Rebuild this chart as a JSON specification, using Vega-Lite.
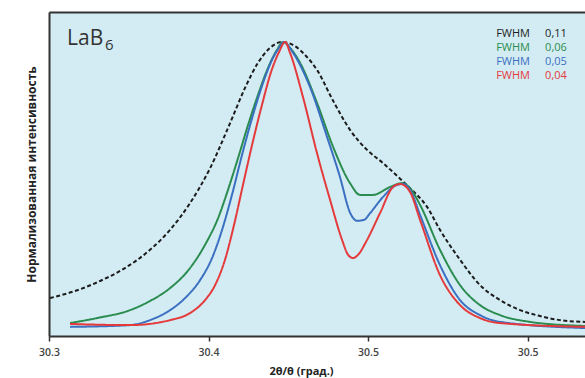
{
  "$schema": "https://vega.github.io/schema/vega-lite/v6.json",
  "width": 536,
  "height": 324,
  "autosize": {"type": "none"},
  "padding": {"left": 49, "top": 12, "right": 0, "bottom": 42},
  "background": "white",
  "config": {
    "view": {"fill": "#d3ecf3", "stroke": null},
    "font": "Open Sans"
  },
  "datasets": {
    "curves": [
      {"s":"0,11","x":30.3006,"y":0.129},{"s":"0,11","x":30.3163,"y":0.153},{"s":"0,11","x":30.332,"y":0.187},{"s":"0,11","x":30.3476,"y":0.231},{"s":"0,11","x":30.3633,"y":0.293},{"s":"0,11","x":30.3759,"y":0.361},{"s":"0,11","x":30.3884,"y":0.452},{"s":"0,11","x":30.401,"y":0.571},{"s":"0,11","x":30.4135,"y":0.724},{"s":"0,11","x":30.4229,"y":0.844},{"s":"0,11","x":30.4310,"y":0.929},{"s":"0,11","x":30.4386,"y":0.980},{"s":"0,11","x":30.4461,"y":1.0},{"s":"0,11","x":30.4542,"y":0.986},{"s":"0,11","x":30.4605,"y":0.956},{"s":"0,11","x":30.468,"y":0.905},{"s":"0,11","x":30.4781,"y":0.800},{"s":"0,11","x":30.4887,"y":0.701},{"s":"0,11","x":30.4994,"y":0.633},{"s":"0,11","x":30.5094,"y":0.588},{"s":"0,11","x":30.5201,"y":0.535},{"s":"0,11","x":30.5263,"y":0.503},{"s":"0,11","x":30.537,"y":0.439},{"s":"0,11","x":30.5451,"y":0.361},{"s":"0,11","x":30.5577,"y":0.259},{"s":"0,11","x":30.5702,"y":0.173},{"s":"0,11","x":30.5828,"y":0.122},{"s":"0,11","x":30.5953,"y":0.088},{"s":"0,11","x":30.6078,"y":0.068},{"s":"0,11","x":30.6204,"y":0.054},{"s":"0,11","x":30.6361,"y":0.048},

      {"s":"0,06","x":30.3132,"y":0.044},{"s":"0,06","x":30.3301,"y":0.061},{"s":"0,06","x":30.3508,"y":0.088},{"s":"0,06","x":30.3633,"y":0.119},{"s":"0,06","x":30.3759,"y":0.163},{"s":"0,06","x":30.3884,"y":0.231},{"s":"0,06","x":30.3978,"y":0.310},{"s":"0,06","x":30.406,"y":0.401},{"s":"0,06","x":30.4122,"y":0.497},{"s":"0,06","x":30.4185,"y":0.605},{"s":"0,06","x":30.4248,"y":0.718},{"s":"0,06","x":30.4310,"y":0.820},{"s":"0,06","x":30.4373,"y":0.912},{"s":"0,06","x":30.4429,"y":0.973},{"s":"0,06","x":30.4467,"y":1.0},{"s":"0,06","x":30.4511,"y":0.980},{"s":"0,06","x":30.4574,"y":0.929},{"s":"0,06","x":30.468,"y":0.793},{"s":"0,06","x":30.4781,"y":0.643},{"s":"0,06","x":30.4887,"y":0.520},{"s":"0,06","x":30.495,"y":0.480},{"s":"0,06","x":30.5031,"y":0.480},{"s":"0,06","x":30.5138,"y":0.507},{"s":"0,06","x":30.5213,"y":0.520},{"s":"0,06","x":30.5263,"y":0.503},{"s":"0,06","x":30.5326,"y":0.446},{"s":"0,06","x":30.5451,"y":0.293},{"s":"0,06","x":30.5577,"y":0.173},{"s":"0,06","x":30.5702,"y":0.105},{"s":"0,06","x":30.5828,"y":0.071},{"s":"0,06","x":30.6016,"y":0.048},{"s":"0,06","x":30.6361,"y":0.034},

      {"s":"0,05","x":30.3132,"y":0.031},{"s":"0,05","x":30.3508,"y":0.037},{"s":"0,05","x":30.3633,"y":0.054},{"s":"0,05","x":30.3759,"y":0.088},{"s":"0,05","x":30.3853,"y":0.129},{"s":"0,05","x":30.3947,"y":0.190},{"s":"0,05","x":30.4022,"y":0.265},{"s":"0,05","x":30.4085,"y":0.361},{"s":"0,05","x":30.4147,"y":0.480},{"s":"0,05","x":30.421,"y":0.616},{"s":"0,05","x":30.4273,"y":0.741},{"s":"0,05","x":30.4335,"y":0.850},{"s":"0,05","x":30.4398,"y":0.939},{"s":"0,05","x":30.4442,"y":0.980},{"s":"0,05","x":30.4473,"y":1.0},{"s":"0,05","x":30.453,"y":0.963},{"s":"0,05","x":30.4636,"y":0.847},{"s":"0,05","x":30.4743,"y":0.677},{"s":"0,05","x":30.4824,"y":0.541},{"s":"0,05","x":30.4887,"y":0.420},{"s":"0,05","x":30.4931,"y":0.392},{"s":"0,05","x":30.4975,"y":0.395},{"s":"0,05","x":30.5013,"y":0.418},{"s":"0,05","x":30.5094,"y":0.473},{"s":"0,05","x":30.5182,"y":0.514},{"s":"0,05","x":30.5219,"y":0.517},{"s":"0,05","x":30.5263,"y":0.497},{"s":"0,05","x":30.5326,"y":0.412},{"s":"0,05","x":30.5451,"y":0.241},{"s":"0,05","x":30.5577,"y":0.122},{"s":"0,05","x":30.5702,"y":0.071},{"s":"0,05","x":30.5828,"y":0.048},{"s":"0,05","x":30.6361,"y":0.027},

      {"s":"0,04","x":30.3132,"y":0.041},{"s":"0,04","x":30.3508,"y":0.037},{"s":"0,04","x":30.3759,"y":0.054},{"s":"0,04","x":30.3884,"y":0.078},{"s":"0,04","x":30.3978,"y":0.122},{"s":"0,04","x":30.4041,"y":0.173},{"s":"0,04","x":30.4103,"y":0.259},{"s":"0,04","x":30.416,"y":0.378},{"s":"0,04","x":30.4216,"y":0.514},{"s":"0,04","x":30.4273,"y":0.650},{"s":"0,04","x":30.4335,"y":0.786},{"s":"0,04","x":30.4392,"y":0.898},{"s":"0,04","x":30.4442,"y":0.966},{"s":"0,04","x":30.448,"y":1.0},{"s":"0,04","x":30.4511,"y":0.963},{"s":"0,04","x":30.4592,"y":0.813},{"s":"0,04","x":30.468,"y":0.622},{"s":"0,04","x":30.4762,"y":0.463},{"s":"0,04","x":30.4837,"y":0.327},{"s":"0,04","x":30.4875,"y":0.276},{"s":"0,04","x":30.4906,"y":0.265},{"s":"0,04","x":30.4937,"y":0.276},{"s":"0,04","x":30.4994,"y":0.327},{"s":"0,04","x":30.5075,"y":0.418},{"s":"0,04","x":30.5157,"y":0.507},{"s":"0,04","x":30.5201,"y":0.517},{"s":"0,04","x":30.5263,"y":0.490},{"s":"0,04","x":30.5326,"y":0.395},{"s":"0,04","x":30.5451,"y":0.207},{"s":"0,04","x":30.5577,"y":0.105},{"s":"0,04","x":30.5702,"y":0.061},{"s":"0,04","x":30.5828,"y":0.044},{"s":"0,04","x":30.6361,"y":0.031}
    ],
    "legendText": [
      {"s":"0,11","t":"FWHM","x":30.5803,"y":1.017},
      {"s":"0,11","t":"0,11","x":30.611,"y":1.017},
      {"s":"0,06","t":"FWHM","x":30.5803,"y":0.969},
      {"s":"0,06","t":"0,06","x":30.611,"y":0.969},
      {"s":"0,05","t":"FWHM","x":30.5803,"y":0.922},
      {"s":"0,05","t":"0,05","x":30.611,"y":0.922},
      {"s":"0,04","t":"FWHM","x":30.5803,"y":0.874},
      {"s":"0,04","t":"0,04","x":30.611,"y":0.874}
    ],
    "sample": [{"t":"LaB","x":30.3113,"y":0.99}],
    "sampleSub": [{"t":"6","x":30.3351,"y":0.973}]
  },
  "layer": [
    {
      "data": {"name": "curves"},
      "mark": {"type": "line", "strokeWidth": 2, "interpolate": "monotone", "clip": true},
      "encoding": {
        "x": {"field": "x", "type": "quantitative",
          "scale": {"domain": [30.3, 30.636], "nice": false, "zero": false},
          "axis": {"values": [30.3, 30.4, 30.5, 30.6], "labelExpr": "datum.value > 30.55 ? '30.5' : format(datum.value, '.1f')",
            "grid": false, "domainColor": "#333", "domainWidth": 2, "tickColor": "#333", "tickWidth": 1.5, "tickSize": 5,
            "labelPadding": 6, "labelFontSize": 10.5, "labelColor": "#444", "labelFontWeight": 600, "labelFlush": false,
            "title": "2θ/θ (град.)", "titleFontSize": 11, "titleFontWeight": "bold", "titleColor": "#222",
            "titleX": 252, "titleY": 29, "titleBaseline": "top", "titleAlign": "center", "titleAnchor": null}},
        "y": {"field": "y", "type": "quantitative",
          "scale": {"domain": [0, 1.102], "nice": false},
          "axis": {"labels": false, "ticks": false, "grid": false, "domainColor": "#333", "domainWidth": 2,
            "title": "Нормализованная интенсивность", "titleFontSize": 12, "titleFontWeight": "bold", "titleColor": "#222", "titlePadding": 11}},
        "color": {"field": "s", "type": "nominal", "legend": null,
          "scale": {"domain": ["0,11", "0,06", "0,05", "0,04"], "range": ["#1c1c1c", "#2a8c4e", "#3b6fc1", "#e53a3c"]}},
        "strokeDash": {"field": "s", "type": "nominal", "legend": null,
          "scale": {"domain": ["0,11", "0,06", "0,05", "0,04"], "range": [[4, 2.5], [1, 0], [1, 0], [1, 0]]}}
      }
    },
    {
      "data": {"name": "legendText"},
      "mark": {"type": "text", "align": "left", "baseline": "alphabetic", "fontSize": 11},
      "encoding": {
        "x": {"field": "x", "type": "quantitative",
          "axis": {"orient": "top", "labels": false, "ticks": false, "grid": false, "title": null, "domainColor": "#333", "domainWidth": 2}},
        "y": {"field": "y", "type": "quantitative", "axis": null},
        "text": {"field": "t"},
        "color": {"field": "s", "type": "nominal", "legend": null}
      }
    },
    {
      "data": {"name": "sample"},
      "mark": {"type": "text", "align": "left", "baseline": "alphabetic", "fontSize": 21, "color": "#333"},
      "encoding": {
        "x": {"field": "x", "type": "quantitative", "axis": null},
        "y": {"field": "y", "type": "quantitative", "axis": null},
        "text": {"field": "t"}
      }
    },
    {
      "data": {"name": "sampleSub"},
      "mark": {"type": "text", "align": "left", "baseline": "alphabetic", "fontSize": 15, "color": "#333"},
      "encoding": {
        "x": {"field": "x", "type": "quantitative", "axis": null},
        "y": {"field": "y", "type": "quantitative", "axis": null},
        "text": {"field": "t"}
      }
    }
  ],
  "resolve": {"axis": {"x": "independent", "y": "independent"}}
}
